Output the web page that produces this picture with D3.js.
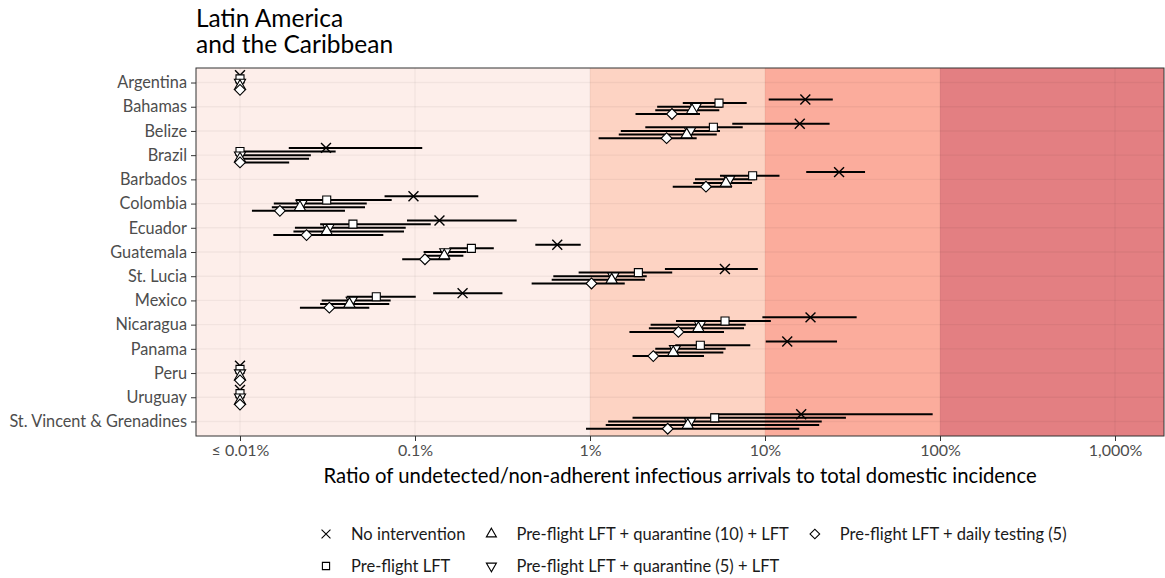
<!DOCTYPE html>
<meta charset="utf-8">
<script src="https://d3js.org/d3.v7.min.js"></script>

<style>
body { margin: 0; background: #fff; }
text { font-family: Lato, "Open Sans", sans-serif; }
.grid line { stroke: #000; stroke-opacity: 0.045; stroke-width: 1.4; }
.axis path { display: none; }
.axis line { stroke: #333; }
</style>

<div id="chart"></div>

<script>
  // Data (values in percent; 0.01 = clamped at the lower limit)
  var countries = ["Argentina", "Bahamas", "Belize", "Brazil", "Barbados", "Colombia", "Ecuador",
                   "Guatemala", "St. Lucia", "Mexico", "Nicaragua", "Panama", "Peru", "Uruguay",
                   "St. Vincent & Grenadines"];

  var seriesNames = ["No intervention", "Pre-flight LFT", "Pre-flight LFT + quarantine (10) + LFT",
                     "Pre-flight LFT + quarantine (5) + LFT", "Pre-flight LFT + daily testing (5)"];

  var noIntMid = [0.01, 17.0, 15.8, 0.031, 26.5, 0.098, 0.138, 0.65, 5.9, 0.187, 18.2, 13.4, 0.01, 0.01, 16.1];
  var noIntLo  = [0.01, 10.5, 6.5, 0.019, 17.2, 0.067, 0.090, 0.487, 2.68, 0.127, 9.66, 10.1, 0.01, 0.01, 4.9];
  var noIntHi  = [0.01, 24.4, 23.4, 0.110, 37.3, 0.230, 0.381, 0.885, 9.1, 0.316, 33.4, 25.8, 0.01, 0.01, 90.8];

  var lftMid = [0.01, 5.46, 5.07, 0.01, 8.50, 0.0313, 0.0442, 0.210, 1.89, 0.0601, 5.91, 4.27, 0.01, 0.01, 5.16];
  var lftLo  = [0.01, 3.39, 2.07, 0.01, 5.53, 0.0208, 0.0287, 0.157, 0.861, 0.0407, 3.10, 3.07, 0.01, 0.01, 1.75];
  var lftHi  = [0.01, 7.86, 7.46, 0.0352, 12.1, 0.0736, 0.123, 0.282, 2.95, 0.101, 10.8, 8.24, 0.01, 0.01, 29.0];

  var q10Mid = [0.01, 3.83, 3.57, 0.01, 5.98, 0.0220, 0.0313, 0.147, 1.33, 0.0422, 4.16, 2.99, 0.01, 0.01, 3.62];
  var q10Lo  = [0.01, 2.36, 1.46, 0.01, 3.89, 0.0152, 0.0202, 0.111, 0.604, 0.0287, 2.17, 2.30, 0.01, 0.01, 1.23];
  var q10Hi  = [0.01, 5.48, 5.30, 0.0248, 8.43, 0.0518, 0.0865, 0.189, 2.06, 0.0713, 7.59, 5.78, 0.01, 0.01, 20.4];

  var q5Mid = [0.01, 4.02, 3.73, 0.01, 6.25, 0.0225, 0.0320, 0.149, 1.36, 0.0435, 4.25, 3.06, 0.01, 0.01, 3.73];
  var q5Lo  = [0.01, 2.42, 1.50, 0.01, 3.98, 0.0156, 0.0206, 0.112, 0.617, 0.0293, 2.22, 2.36, 0.01, 0.01, 1.27];
  var q5Hi  = [0.01, 5.68, 5.53, 0.0254, 8.8, 0.0530, 0.0885, 0.197, 2.11, 0.0726, 7.76, 5.96, 0.01, 0.01, 21.1];

  var dailyMid = [0.01, 2.94, 2.74, 0.01, 4.60, 0.0169, 0.0240, 0.114, 1.02, 0.0324, 3.20, 2.30, 0.01, 0.01, 2.78];
  var dailyLo  = [0.01, 1.82, 1.12, 0.01, 2.97, 0.0117, 0.0155, 0.0845, 0.464, 0.0220, 1.68, 1.75, 0.01, 0.01, 0.949];
  var dailyHi  = [0.01, 4.25, 4.07, 0.0191, 6.48, 0.0398, 0.0659, 0.158, 1.58, 0.0548, 5.83, 4.48, 0.01, 0.01, 15.7];

  var tickValues = [0.01, 0.1, 1, 10, 100, 1000];
  var tickLabels = ["≤ 0.01%", "0.1%", "1%", "10%", "100%", "1,000%"];

  var bandBreaks = [1, 10, 100];
  var bandColors = ["#fdeeea", "#fdd3c3", "#fbac9c", "#e37f82"];

  // Series table (legend order); dodge = vertical slot inside a row
  var series = [
    { name: seriesNames[0], shape: "x",       dodge: -2, mid: noIntMid, lo: noIntLo, hi: noIntHi },
    { name: seriesNames[1], shape: "square",  dodge: -1, mid: lftMid,   lo: lftLo,   hi: lftHi },
    { name: seriesNames[2], shape: "up",      dodge:  1, mid: q10Mid,   lo: q10Lo,   hi: q10Hi },
    { name: seriesNames[3], shape: "down",    dodge:  0, mid: q5Mid,    lo: q5Lo,    hi: q5Hi },
    { name: seriesNames[4], shape: "diamond", dodge:  2, mid: dailyMid, lo: dailyLo, hi: dailyHi }
  ];

  // Boilerplate
  var W = 1165, H = 578;
  var panel = { left: 196, top: 68, right: 1164, bottom: 436 };

  var svg = d3.select("#chart")
              .append("svg")
              .attr("width", W)
              .attr("height", H);

  // Scales
  var x = d3.scaleLog()
            .domain([0.01, 1000])
            .range([240, 1115]);
  var xMin = x.invert(panel.left), xMax = x.invert(panel.right);

  var y = d3.scalePoint()
            .domain(countries)
            .range([panel.top, panel.bottom])
            .padding(0.6);
  var slot = y.step() * 0.15;

  svg.append("clipPath")
     .attr("id", "clip")
     .append("rect")
     .attr("x", panel.left).attr("y", panel.top)
     .attr("width", panel.right - panel.left)
     .attr("height", panel.bottom - panel.top);

  var plot = svg.append("g").attr("clip-path", "url(#clip)");

  // Background bands
  var edges = [xMin].concat(bandBreaks).concat([xMax]);
  plot.selectAll("rect.band")
      .data(bandColors)
      .enter()
      .append("rect")
      .attr("class", "band")
      .attr("x", function (d, i) { return x(edges[i]); })
      .attr("width", function (d, i) { return x(edges[i + 1]) - x(edges[i]); })
      .attr("y", panel.top)
      .attr("height", panel.bottom - panel.top)
      .attr("fill", function (d) { return d; });

  // Gridlines
  var grid = plot.append("g").attr("class", "grid");
  grid.selectAll("line.v")
      .data(tickValues)
      .enter()
      .append("line")
      .attr("x1", function (d) { return x(d); })
      .attr("x2", function (d) { return x(d); })
      .attr("y1", panel.top)
      .attr("y2", panel.bottom);
  grid.selectAll("line.h")
      .data(countries)
      .enter()
      .append("line")
      .attr("x1", panel.left)
      .attr("x2", panel.right)
      .attr("y1", function (d) { return y(d); })
      .attr("y2", function (d) { return y(d); });

  // Symbols
  function symbolPath(shape, k) {
    k = k || 1;
    if (shape === "x") return d3.symbol(d3.symbolX, 66 * k * k)();
    if (shape === "square") return d3.symbol(d3.symbolSquare, 64 * k * k)();
    if (shape === "diamond") return d3.symbol(d3.symbolSquare, 58 * k * k)();
    return d3.symbol(d3.symbolTriangle, 54 * k * k)();
  }
  function symbolRotate(shape) {
    if (shape === "diamond") return " rotate(45)";
    if (shape === "down") return " rotate(180)";
    return "";
  }

  // Intervals
  series.forEach(function (s) {
    plot.append("g")
        .selectAll("line")
        .data(countries)
        .enter()
        .append("line")
        .attr("x1", function (d, i) { return x(s.lo[i]); })
        .attr("x2", function (d, i) { return x(s.hi[i]); })
        .attr("y1", function (d) { return y(d) + s.dodge * slot; })
        .attr("y2", function (d) { return y(d) + s.dodge * slot; })
        .attr("stroke", "#000")
        .attr("stroke-width", 2);
  });

  // Points (drawn in vertical order so triangles overlap like the original)
  var drawOrder = series.slice().sort(function (a, b) { return a.dodge - b.dodge; });
  drawOrder.forEach(function (s) {
    plot.append("g")
        .selectAll("path")
        .data(countries)
        .enter()
        .append("path")
        .attr("d", symbolPath(s.shape))
        .attr("transform", function (d, i) {
          return "translate(" + x(s.mid[i]) + "," + (y(d) + s.dodge * slot) + ")" + symbolRotate(s.shape);
        })
        .attr("fill", s.shape === "x" ? "none" : "#fff")
        .attr("stroke", "#000")
        .attr("stroke-width", s.shape === "x" ? 1.4 : 1.1);
  });

  // Panel border
  svg.append("rect")
     .attr("x", panel.left).attr("y", panel.top)
     .attr("width", panel.right - panel.left)
     .attr("height", panel.bottom - panel.top)
     .attr("fill", "none")
     .attr("stroke", "#333")
     .attr("stroke-width", 1);

  // Axes
  var yAxis = svg.append("g")
     .attr("class", "axis")
     .attr("transform", "translate(" + panel.left + ",0)")
     .call(d3.axisLeft(y).tickSize(5).tickPadding(4));
  yAxis.selectAll("text")
       .attr("font-size", "16.3px")
       .attr("fill", "#4d4d4d")
       .style("font-family", "Lato, sans-serif");

  var xAxis = svg.append("g")
     .attr("class", "axis")
     .attr("transform", "translate(0," + panel.bottom + ")")
     .call(d3.axisBottom(x)
             .tickValues(tickValues)
             .tickFormat(function (d, i) { return tickLabels[i]; })
             .tickSize(5)
             .tickPadding(4));
  xAxis.selectAll("text")
       .attr("font-size", "16px")
       .attr("fill", "#4d4d4d")
       .style("font-family", "Lato, sans-serif");

  svg.append("text")
     .attr("x", (panel.left + panel.right) / 2)
     .attr("y", 483)
     .attr("text-anchor", "middle")
     .attr("font-size", "20.3px")
     .attr("fill", "#000")
     .text("Ratio of undetected/non-adherent infectious arrivals to total domestic incidence");

  // Title
  var title = svg.append("text")
     .attr("x", panel.left)
     .attr("y", 27)
     .attr("font-size", "24.5px")
     .attr("fill", "#000");
  title.append("tspan").attr("x", panel.left).text("Latin America");
  title.append("tspan").attr("x", panel.left).attr("dy", 26).text("and the Caribbean");

  // Legend (two rows, filled by column)
  var legendRows = [534, 566];
  var legend = svg.append("g");
  var colX = 326;
  for (var c = 0; c * 2 < series.length; c++) {
    var maxW = 0;
    for (var r = 0; r < 2; r++) {
      var s = series[c * 2 + r];
      if (!s) continue;
      legend.append("path")
            .attr("d", symbolPath(s.shape, 0.9))
            .attr("transform", "translate(" + colX + "," + legendRows[r] + ")" + symbolRotate(s.shape))
            .attr("fill", "none")
            .attr("stroke", "#000")
            .attr("stroke-width", 1.1);
      var t = legend.append("text")
            .attr("x", colX + 25)
            .attr("y", legendRows[r])
            .attr("dy", "0.35em")
            .attr("font-size", "16.5px")
            .attr("fill", "#1a1a1a")
            .text(s.name);
      maxW = Math.max(maxW, t.node().getComputedTextLength());
    }
    colX = colX + 25 + maxW + 26;
  }
</script>
